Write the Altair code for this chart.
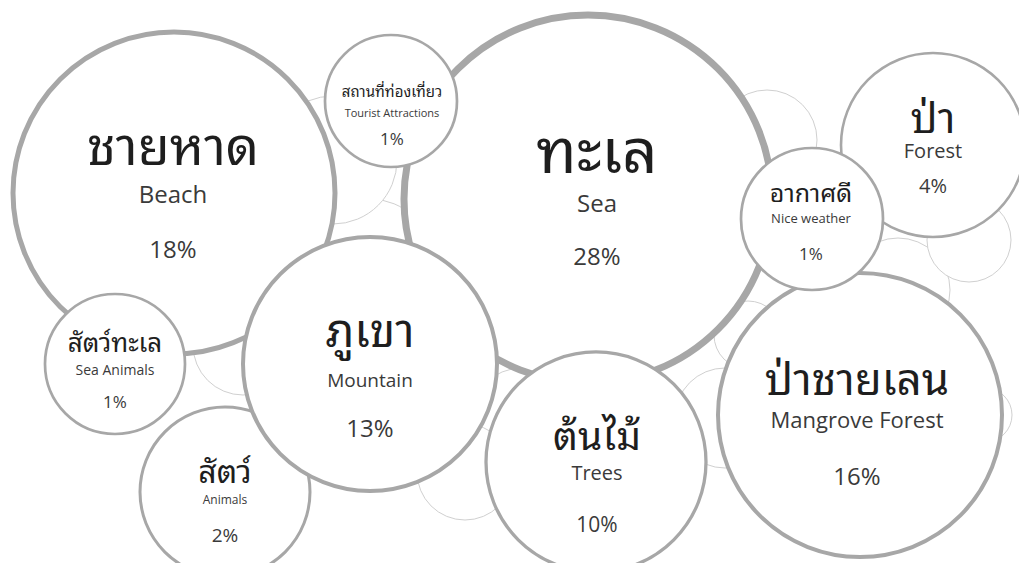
import altair as alt
import pandas as pd

# ---- data ----
thai = ["ชายหาด", "สถานที่ท่องเที่ยว", "ทะเล", "อากาศดี", "ป่า",
        "สัตว์ทะเล", "ภูเขา", "สัตว์", "ต้นไม้", "ป่าชายเลน"]
english = ["Beach", "Tourist Attractions", "Sea", "Nice weather", "Forest",
           "Sea Animals", "Mountain", "Animals", "Trees", "Mangrove Forest"]
percent = [18, 1, 28, 1, 4, 1, 13, 2, 10, 16]

# ---- bubble layout (pixel positions) ----
cx = [174, 391, 588, 812, 933, 115, 370, 225, 596, 860]
cy = [193, 101, 199, 219, 145, 364, 364, 492, 462, 415]
radius = [161, 66, 184, 71, 92, 70, 127, 85, 110, 142]
stroke_w = [5, 2.7, 7, 2.7, 2.6, 2.7, 4, 3, 3.3, 4]
draw_order = [1, 6, 2, 10, 9, 7, 4, 3, 8, 5]
label_x = [173, 392, 597, 811, 933, 115, 370, 225, 597, 857]
th_y = [165, 97, 173, 202, 133, 352, 347, 483, 450, 395]
en_y = [203, 117, 212, 223, 158, 375, 387, 504, 480, 428]
pct_y = [258, 145, 265, 260, 193, 408, 437, 542, 532, 485]
th_size = [52, 15, 62, 25, 42, 26, 46, 32, 39, 44]
en_size = [24, 11, 24, 13, 20, 14, 19, 12, 20, 22]
pct_size = [24, 17, 24, 17, 20, 17, 24, 19, 21, 24]

# faint background bubbles (drawn first, in this order)
faint_x = [370, 333, 243, 522, 465, 767, 898, 969, 725, 748, 985]
faint_y = [262, 160, 345, 420, 472, 140, 290, 240, 418, 335, 415]
faint_r = [63, 64, 50, 52, 48, 50, 52, 42, 50, 34, 27]

W, H = 1011, 555
xs = alt.Scale(domain=[8, 8 + W], nice=False, zero=False)
ys = alt.Scale(domain=[8, 8 + H], nice=False, zero=False, reverse=True)

# Vega symbol size = area of the bounding square = (2r)^2
rows = []
for i in range(len(faint_x)):
    rows.append(dict(x=faint_x[i], y=faint_y[i], area=(2 * faint_r[i]) ** 2,
                     sw=1.0, col="#d0d0d0", order=i))
for i in range(len(thai)):
    rows.append(dict(x=cx[i], y=cy[i], area=(2 * radius[i]) ** 2,
                     sw=stroke_w[i], col="#a7a7a7", order=100 + draw_order[i]))
circles = pd.DataFrame(rows)

labels = pd.DataFrame(dict(
    x=label_x, thai=thai, english=english,
    pct=[f"{p}%" for p in percent],
    th_y=th_y, en_y=en_y, pct_y=pct_y,
    th_size=th_size, en_size=en_size, pct_size=pct_size,
))

circle_layer = alt.Chart(circles).mark_circle(
    fill="white", fillOpacity=1, opacity=1
).encode(
    x=alt.X("x:Q", scale=xs, axis=None),
    y=alt.Y("y:Q", scale=ys, axis=None),
    size=alt.Size("area:Q", scale=None, legend=None),
    stroke=alt.Stroke("col:N", scale=None, legend=None),
    strokeWidth=alt.StrokeWidth("sw:Q", scale=None, legend=None),
    order=alt.Order("order:Q"),
)

th_layer = alt.Chart(labels).mark_text(
    font="Noto Sans Thai Looped, Loma, Garuda, Noto Sans Thai, sans-serif",
    baseline="alphabetic", align="center", color="#1e1e1e"
).encode(
    x=alt.X("x:Q", scale=xs, axis=None),
    y=alt.Y("th_y:Q", scale=ys, axis=None),
    text="thai:N",
    size=alt.Size("th_size:Q", scale=None, legend=None),
)

en_layer = alt.Chart(labels).mark_text(
    font="Open Sans", baseline="alphabetic", align="center", color="#3a3a3a"
).encode(
    x=alt.X("x:Q", scale=xs, axis=None),
    y=alt.Y("en_y:Q", scale=ys, axis=None),
    text="english:N",
    size=alt.Size("en_size:Q", scale=None, legend=None),
)

pct_layer = alt.Chart(labels).mark_text(
    font="Open Sans", baseline="alphabetic", align="center", color="#3a3a3a"
).encode(
    x=alt.X("x:Q", scale=xs, axis=None),
    y=alt.Y("pct_y:Q", scale=ys, axis=None),
    text="pct:N",
    size=alt.Size("pct_size:Q", scale=None, legend=None),
)

chart = alt.layer(circle_layer, th_layer, en_layer, pct_layer).properties(
    width=W, height=H, padding=0,
    autosize=alt.AutoSizeParams(type="none"),
    background="white",
).configure_view(stroke=None)

chart.save("out.html", embed_options={"renderer": "svg", "actions": False})
